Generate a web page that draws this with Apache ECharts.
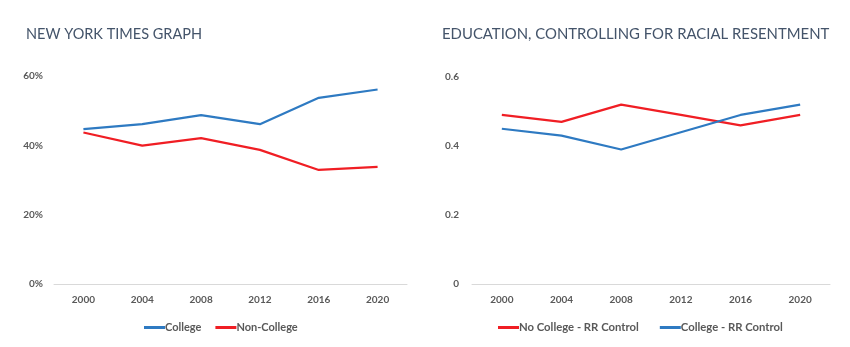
<!DOCTYPE html>
<html>
<head>
<meta charset="utf-8">
<script src="https://cdn.jsdelivr.net/npm/echarts@6/dist/echarts.min.js"></script>
<style>
html,body{margin:0;padding:0;background:#fff;}
#c{width:850px;height:347px;}
</style>
</head>
<body>
<div id="c"></div>
<script>
// Data
const years = ['2000', '2004', '2008', '2012', '2016', '2020'];
// Left chart: New York Times graph (percent)
const nytCollege = [44.7, 46.1, 48.7, 46.1, 53.7, 56.1];
const nytNonCollege = [43.7, 39.9, 42.1, 38.7, 32.9, 33.8];
// Right chart: education controlling for racial resentment
const rrNoCollege = [0.49, 0.47, 0.52, 0.49, 0.46, 0.49];
const rrCollege = [0.45, 0.43, 0.39, 0.44, 0.49, 0.52];
const leftTicks = [0, 20, 40, 60];
const rightTicks = [0, 0.2, 0.4, 0.6];

const BLUE = '#2E7AC2';
const RED = '#F01E24';
const FONT = 'Lato, "Open Sans", sans-serif';
const labelStyle = {color: '#595959', fontSize: 10, fontWeight: 'bold', fontFamily: FONT};

const chart = echarts.init(document.getElementById('c'), null, {renderer: 'canvas'});

function xAxis(gi) {
  return {
    type: 'category', gridIndex: gi, data: years, boundaryGap: true,
    axisLine: {show: true, lineStyle: {color: '#D9D9D9', width: 1}},
    axisTick: {show: false},
    axisLabel: Object.assign({margin: 11}, labelStyle)
  };
}

chart.setOption({
  animation: false,
  backgroundColor: '#fff',
  title: [
    {text: 'NEW YORK TIMES GRAPH', left: 21, top: 22,
     textStyle: {color: '#44546A', fontSize: 14.5, fontWeight: 'normal', fontFamily: FONT}},
    {text: 'EDUCATION, CONTROLLING FOR RACIAL RESENTMENT', left: 437, top: 22,
     textStyle: {color: '#44546A', fontSize: 14.9, fontWeight: 'normal', fontFamily: FONT}}
  ],
  grid: [
    {left: 54, right: 443, top: 76, bottom: 63},
    {left: 472, right: 20, top: 77, bottom: 63}
  ],
  legend: [
    {data: ['College', 'Non-College'], left: 139, top: 317, icon: 'rect',
     itemWidth: 21, itemHeight: 3, itemGap: 14,
     textStyle: {color: '#595959', fontSize: 11, fontWeight: 'bold', fontFamily: FONT, padding: [0, 0, 0, -5]}},
    {data: ['No College - RR Control', 'College - RR Control'], left: 493, top: 317, icon: 'rect',
     itemWidth: 21, itemHeight: 3, itemGap: 21,
     textStyle: {color: '#595959', fontSize: 11.3, fontWeight: 'bold', fontFamily: FONT, padding: [0, 0, 0, -5]}}
  ],
  xAxis: [xAxis(0), xAxis(1)],
  yAxis: [
    {type: 'value', gridIndex: 0, min: leftTicks[0], max: leftTicks[leftTicks.length - 1], interval: 20,
     axisLine: {show: false}, axisTick: {show: false}, splitLine: {show: false},
     axisLabel: Object.assign({margin: 11, formatter: '{value}%'}, labelStyle)},
    {type: 'value', gridIndex: 1, min: rightTicks[0], max: rightTicks[rightTicks.length - 1], interval: 0.2,
     axisLine: {show: false}, axisTick: {show: false}, splitLine: {show: false},
     axisLabel: Object.assign({margin: 13, formatter: v => String(+v.toFixed(1))}, labelStyle)}
  ],
  series: [
    {name: 'College', type: 'line', xAxisIndex: 0, yAxisIndex: 0, data: nytCollege,
     symbol: 'none', lineStyle: {color: BLUE, width: 2.2}, itemStyle: {color: BLUE}},
    {name: 'Non-College', type: 'line', xAxisIndex: 0, yAxisIndex: 0, data: nytNonCollege,
     symbol: 'none', lineStyle: {color: RED, width: 2.2}, itemStyle: {color: RED}},
    {name: 'No College - RR Control', type: 'line', xAxisIndex: 1, yAxisIndex: 1, data: rrNoCollege,
     symbol: 'none', lineStyle: {color: RED, width: 2.2}, itemStyle: {color: RED}},
    {name: 'College - RR Control', type: 'line', xAxisIndex: 1, yAxisIndex: 1, data: rrCollege,
     symbol: 'none', lineStyle: {color: BLUE, width: 2.2}, itemStyle: {color: BLUE}}
  ]
});
</script>
</body>
</html>
